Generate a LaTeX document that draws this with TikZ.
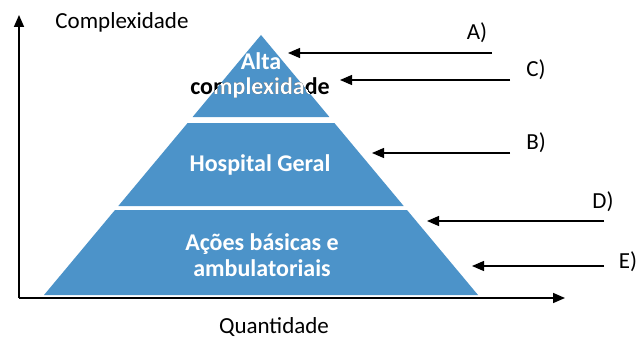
\documentclass[tikz,border=0pt]{standalone}
\usepackage{fontspec}
\setmainfont{Carlito}
\usetikzlibrary{arrows.meta}
\definecolor{pyrblue}{RGB}{76,147,201}

\begin{document}
\begin{tikzpicture}[x=1pt,y=1pt]
	\tikzstyle{LEVEL} = [fill=pyrblue, draw=none]
	\tikzstyle{INNER} = [font=\fontsize{24}{26}\selectfont\bfseries, text=white, align=center, inner sep=0pt]
	\tikzstyle{TAG} = [font=\fontsize{23}{27}\selectfont, inner sep=0pt]
	\tikzstyle{AXIS} = [line width=1.6pt, -{Triangle[length=12pt,width=10pt]}]
	\tikzstyle{PTR} = [line width=1.3pt, -{Triangle[length=12pt,width=10pt]}]
	\useasboundingbox (0,0) rectangle (639,338);

	% axes
	\coordinate (O) at (19,40);
	\coordinate (YEND) at (19,323);
	\coordinate (XEND) at (565,40);
	\draw[AXIS] (O) -- (YEND);
	\draw[AXIS] (O) -- (XEND);
	\node[TAG] (CPX) at (122,316) {Complexidade};
	\node[TAG] (QTD) at (274,11) {Quantidade};

	% pyramid levels
	\coordinate (TOP) at (261,303);
	\coordinate (TOPR) at (329.4,221);
	\coordinate (TOPL) at (192.6,221);
	\fill[LEVEL] (TOP) -- (TOPR) -- (TOPL) -- cycle;
	\fill[LEVEL] (187.6,215) -- (334.4,215) -- (403.7,132) -- (118.3,132) -- cycle;
	\fill[LEVEL] (115,128) -- (407,128) -- (478,43) -- (44,43) -- cycle;

	\node[INNER] (ALTA) at (261,277) {Alta};
	\node[INNER, text=black] (CPXB) at (260,250) {complexidade};
	\begin{scope}
		\clip (TOP) -- (TOPR) -- (TOPL) -- cycle;
		\node[INNER] (CPXW) at (260,250) {complexidade};
	\end{scope}
	\node[INNER] (HOSP) at (260,173) {Hospital Geral};
	\node[INNER] (ACOES) at (262,83) {Ações básicas e\\ambulatoriais};

	% pointers
	\coordinate (A-end) at (492,285);
	\coordinate (A-tip) at (288,285);
	\draw[PTR] (A-end) -- (A-tip);
	\node[TAG] (A) at (477,305) {A)};
	\coordinate (C-end) at (510,258);
	\coordinate (C-tip) at (340,258);
	\draw[PTR] (C-end) -- (C-tip);
	\node[TAG] (C) at (536,268) {C)};
	\coordinate (B-end) at (510,185);
	\coordinate (B-tip) at (372,185);
	\draw[PTR] (B-end) -- (B-tip);
	\node[TAG] (B) at (536,195) {B)};
	\coordinate (D-end) at (604,117);
	\coordinate (D-tip) at (427,117);
	\draw[PTR] (D-end) -- (D-tip);
	\node[TAG] (D) at (603,136) {D)};
	\coordinate (E-end) at (604,72);
	\coordinate (E-tip) at (472,72);
	\draw[PTR] (E-end) -- (E-tip);
	\node[TAG] (E) at (628,76) {E)};
	%\node at (19,0) {};
\end{tikzpicture}
\end{document}
